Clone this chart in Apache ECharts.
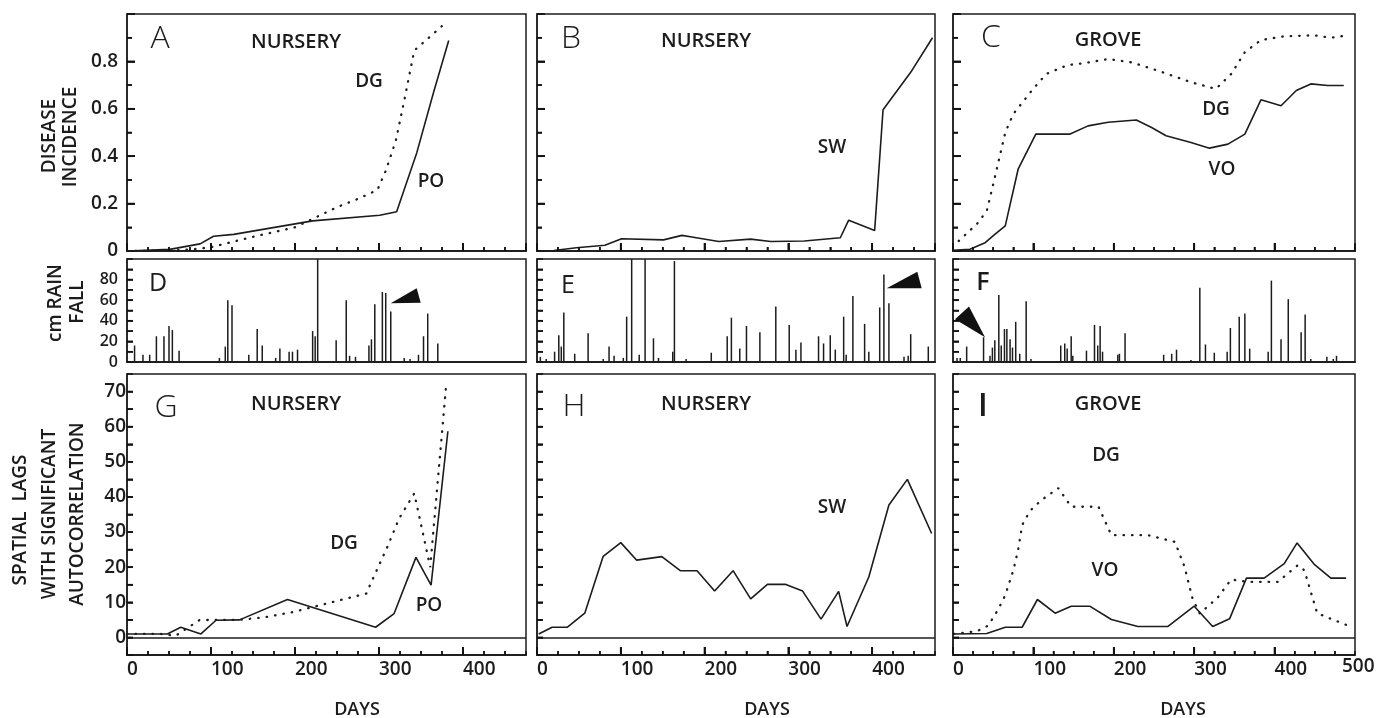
<!DOCTYPE html>
<html><head><meta charset="utf-8">
<script src="https://cdn.jsdelivr.net/npm/echarts@6/dist/echarts.min.js"></script>
<style>html,body{margin:0;padding:0;background:#fff}#c{width:1377px;height:718px}</style>
</head><body><div id="c"></div><script>
// ---------- DATA ----------
// Panel A (nursery disease incidence)
const A_PO_days = [0, 51, 87, 103, 127, 221, 301, 321, 345, 365, 383];
const A_PO_vals = [0, 0.007, 0.03, 0.062, 0.07, 0.127, 0.151, 0.166, 0.415, 0.67, 0.888];
const A_DG_days = [0, 50, 75, 100, 150, 200, 250, 275, 298, 308, 320, 330, 342, 360, 380];
const A_DG_vals = [0, 0.002, 0.006, 0.016, 0.06, 0.1, 0.185, 0.22, 0.257, 0.338, 0.465, 0.634, 0.846, 0.902, 0.965];
// Panel B
const B_SW_days = [2, 20, 47, 81, 101, 151, 173, 183, 217, 255, 279, 319, 362, 372, 403, 413, 446, 472];
const B_SW_vals = [0, 0.002, 0.014, 0.024, 0.052, 0.047, 0.066, 0.06, 0.04, 0.05, 0.04, 0.042, 0.056, 0.13, 0.087, 0.596, 0.754, 0.9];
// Panel C (grove)
const C_VO_days = [0, 21, 40, 52, 65, 81, 103, 145, 168, 193, 228, 247, 265, 296, 319, 342, 363, 383, 408, 427, 445, 466, 486];
const C_VO_vals = [0.003, 0.007, 0.035, 0.07, 0.106, 0.345, 0.493, 0.493, 0.528, 0.543, 0.553, 0.521, 0.486, 0.458, 0.434, 0.451, 0.493, 0.638, 0.613, 0.677, 0.705, 0.698, 0.698];
const C_DG_days = [7, 30, 42, 52, 65, 75, 98, 116, 143, 162, 193, 222, 255, 296, 327, 346, 363, 383, 412, 449, 470, 491];
const C_DG_vals = [0.042, 0.115, 0.169, 0.31, 0.5, 0.578, 0.677, 0.747, 0.785, 0.792, 0.81, 0.796, 0.761, 0.712, 0.684, 0.747, 0.839, 0.89, 0.906, 0.91, 0.9, 0.91];
// Panels D, E, F (rainfall spikes)
const D_rain_days = [9, 19, 27, 35, 44, 50, 54, 62, 68, 110, 117, 120, 125, 145, 155, 161, 177, 182, 193, 197, 203, 221, 224, 227, 249, 261, 265, 272, 288, 291, 295, 304, 308, 314, 330, 337, 347, 353, 358, 370];
const D_rain_vals = [16, 7, 7, 25, 25, 35, 31, 11, 1, 4, 15, 60, 55, 7, 32, 16, 4, 13, 10, 10, 12, 30, 25, 100, 21, 60, 6, 5, 16, 22, 56, 68, 67, 49, 4, 3, 7, 25, 47, 18];
const E_rain_days = [4, 11, 21, 26, 29, 32, 45, 61, 79, 86, 92, 103, 107, 113, 122, 129, 139, 145, 162, 164, 178, 208, 227, 232, 242, 250, 266, 285, 301, 309, 315, 336, 342, 350, 356, 366, 369, 377, 391, 396, 409, 414, 420, 438, 443, 446, 467];
const E_rain_vals = [5, 3, 10, 26, 15, 48, 8, 28, 3, 15, 6, 4, 44, 100, 7, 100, 23, 4, 10, 98, 3, 9, 25, 43, 13, 35, 29, 54, 36, 12, 19, 25, 18, 26, 12, 44, 7, 64, 37, 10, 53, 85, 57, 5, 6, 27, 15];
const F_rain_days = [5, 9, 17, 38, 46, 49, 52, 57, 60, 64, 67, 71, 74, 78, 83, 91, 97, 134, 139, 142, 147, 149, 166, 176, 180, 183, 186, 205, 207, 214, 262, 272, 278, 296, 307, 314, 325, 341, 345, 356, 363, 369, 392, 396, 408, 417, 433, 438, 445, 465, 473, 477];
const F_rain_vals = [4, 4, 15, 24, 6, 14, 21, 65, 16, 32, 32, 22, 14, 39, 8, 59, 3, 16, 18, 13, 25, 6, 11, 36, 16, 35, 10, 7, 8, 28, 7, 8, 12, 2, 72, 17, 9, 10, 33, 44, 47, 13, 10, 79, 22, 61, 29, 46, 3, 5, 3, 6];
// Panels G, H, I (spatial lags)
const G_PO_days = [0, 48, 64, 88, 106, 134, 191, 296, 318, 344, 362, 382];
const G_PO_vals = [1, 1, 2.9, 1, 4.9, 5, 10.8, 2.9, 6.8, 22.8, 14.9, 58.7];
const G_DG_days = [0, 40, 58, 86, 102, 134, 165, 197, 245, 285, 290, 310, 324, 342, 361, 380];
const G_DG_vals = [1, 1, 0.5, 4.9, 5, 5, 5.8, 7.2, 10.1, 12.5, 15.3, 25.8, 33.9, 41, 20, 72];
const H_SW_days = [2, 18, 36, 57, 79, 100, 119, 149, 171, 191, 212, 234, 255, 275, 297, 317, 339, 360, 370, 396, 420, 442, 471];
const H_SW_vals = [1, 2.9, 2.9, 6.9, 23.1, 27, 22, 23, 19, 19, 13.2, 19, 11, 15.1, 15.1, 13.2, 5.2, 13.1, 3.1, 17.2, 37.7, 45, 29.6];
const I_VO_days = [1, 42, 65, 86, 105, 127, 147, 170, 197, 230, 267, 300, 323, 344, 365, 387, 412, 428, 449, 470, 489];
const I_VO_vals = [1, 1.1, 2.9, 2.9, 10.8, 6.9, 8.9, 8.9, 5.1, 3.1, 3.1, 8.9, 3.1, 5.3, 16.9, 16.9, 21, 26.9, 20.9, 16.9, 16.9];
const I_DG_days = [1, 30, 44, 56, 65, 75, 81, 86, 96, 110, 131, 147, 181, 197, 243, 276, 288, 298, 307, 329, 346, 367, 404, 429, 437, 453, 470, 491];
const I_DG_vals = [1, 1.8, 3.4, 7.9, 12, 19.1, 24.9, 32, 36.1, 39.1, 42.5, 37.2, 37.2, 29.1, 29.1, 27.2, 20.1, 11, 6.8, 11.3, 16.5, 15.8, 15.8, 20.6, 19.1, 6.9, 5.3, 3.4];
// Tick label sets
const xTickLabels = ['0', '100', '200', '300', '400'];
const dayMaxNursery = 475, dayMaxGrove = 500;

// ---------- CHART ----------
const FONT = '"Open Sans", "Noto Sans", sans-serif';
const INK = '#1c1c1c';
const chart = echarts.init(document.getElementById('c'), null, {renderer: 'canvas'});
const zip = (d, v) => d.map((x, i) => [x, v[i]]);

const grids = [
  {left: 127, top: 14, width: 399, height: 237},
  {left: 537, top: 14, width: 398, height: 237},
  {left: 953, top: 14, width: 402, height: 237},
  {left: 127, top: 259, width: 399, height: 103},
  {left: 537, top: 259, width: 398, height: 103},
  {left: 953, top: 259, width: 402, height: 103},
  {left: 127, top: 374, width: 399, height: 281},
  {left: 537, top: 374, width: 398, height: 281},
  {left: 953, top: 374, width: 402, height: 281}
].map(g => Object.assign({show: true, borderColor: INK, borderWidth: 1.5}, g));

const axLine = () => ({show: true, onZero: false, lineStyle: {color: INK, width: 1.5}});
const tick = (len, w) => ({show: true, inside: true, length: len, lineStyle: {color: '#111', width: w}});
const xMax = [dayMaxNursery, dayMaxNursery, dayMaxGrove, dayMaxNursery, dayMaxNursery, dayMaxGrove, dayMaxNursery, dayMaxNursery, dayMaxGrove];
const xAxes = [];
for (let i = 0; i < 9; i++) {
  const rainPanel = (i >= 3 && i <= 5);
  xAxes.push({type: 'value', gridIndex: i, position: 'bottom', min: 0, max: xMax[i], interval: 25,
    axisLine: axLine(), splitLine: {show: false}, axisLabel: {show: false},
    axisTick: rainPanel ? {show: false} : tick(4, 1.5)});
  xAxes.push({type: 'value', gridIndex: i, position: 'bottom', min: 0, max: xMax[i], interval: 100,
    axisLine: axLine(), splitLine: {show: false},
    axisTick: rainPanel ? {show: false} : tick(8, 1.8),
    axisLabel: {show: i >= 6, showMaxLabel: false, align: 'left', margin: 5,
      fontFamily: FONT, fontSize: 19, fontWeight: 600, color: INK,
      formatter: v => xTickLabels[Math.round(v / 100)] || ''}});
}
const yAxes = [];
for (let i = 0; i < 9; i++) {
  const base = {type: 'value', gridIndex: i, position: 'left', axisLine: axLine(), splitLine: {show: false}};
  if (i < 3) {
    yAxes.push(Object.assign(base, {min: 0, max: 1, interval: 0.2,
      axisTick: tick(8, 1.8),
      minorTick: {show: true, splitNumber: 2, length: 5, lineStyle: {color: '#111', width: 1.5}},
      axisLabel: {show: i === 0, showMaxLabel: false, margin: 9, fontFamily: FONT, fontSize: 19, fontWeight: 600, color: INK,
        formatter: v => v === 0 ? '0' : String(+v.toFixed(1))}}));
  } else if (i < 6) {
    yAxes.push(Object.assign(base, {min: 0, max: 100, interval: 20,
      axisTick: tick(6, 1.5),
      minorTick: {show: true, splitNumber: 2, length: 6, lineStyle: {color: '#111', width: 1.5}},
      axisLabel: {show: i === 3, showMaxLabel: false, margin: 9, fontFamily: FONT, fontSize: 16, fontWeight: 600, color: INK}}));
  } else {
    yAxes.push(Object.assign(base, {min: -5, max: 75, interval: 5,
      axisTick: tick(6, 1.6),
      axisLabel: {show: i === 6, margin: 1, fontFamily: FONT, fontSize: 19, fontWeight: 600, color: INK,
        formatter: v => (v >= 0 && v % 10 === 0) ? String(v) : ''}}));
  }
}

const solid = {color: INK, width: 1.6};
const dotted = {color: INK, width: 2.3, type: [0.5, 8], cap: 'round'};
function line(i, days, vals, style, extra) {
  return Object.assign({type: 'line', xAxisIndex: 2 * i + 1, yAxisIndex: i, data: zip(days, vals),
    showSymbol: false, symbol: 'none', lineStyle: style, silent: true, z: 3}, extra || {});
}
function rain(i, days, vals) {
  return {type: 'bar', xAxisIndex: 2 * i + 1, yAxisIndex: i, data: zip(days, vals), barWidth: 1.5,
    itemStyle: {color: INK}, silent: true, clip: true};
}
const zeroLine = {markLine: {silent: true, symbol: 'none', label: {show: false},
  lineStyle: {color: INK, width: 1.5, type: 'solid'}, data: [{yAxis: 0}]}};

const series = [
  line(0, A_PO_days, A_PO_vals, solid),
  line(0, A_DG_days, A_DG_vals, dotted),
  line(1, B_SW_days, B_SW_vals, solid),
  line(2, C_VO_days, C_VO_vals, solid),
  line(2, C_DG_days, C_DG_vals, dotted),
  rain(3, D_rain_days, D_rain_vals),
  rain(4, E_rain_days, E_rain_vals),
  rain(5, F_rain_days, F_rain_vals),
  line(6, G_PO_days, G_PO_vals, solid, zeroLine),
  line(6, G_DG_days, G_DG_vals, dotted),
  line(7, H_SW_days, H_SW_vals, solid, zeroLine),
  line(8, I_VO_days, I_VO_vals, solid, zeroLine),
  line(8, I_DG_days, I_DG_vals, dotted)
];

function txt(text, x, y, size, weight, rot, align) {
  return {type: 'text', x: x, y: y, rotation: rot || 0, silent: true, z: 10,
    style: {text: text, fill: INK, fontFamily: FONT, fontSize: size, fontWeight: weight,
      align: align || 'center', verticalAlign: 'middle', textAlign: align || 'center', textVerticalAlign: 'middle'}};
}
const R = Math.PI / 2;
const graphics = [
  txt('A', 160, 39, 32, 300), txt('B', 571, 39, 32, 300), txt('C', 991, 38, 32, 300),
  txt('D', 158, 284, 25, 400), txt('E', 568, 286, 25, 400), txt('F', 983, 283, 25, 600),
  txt('G', 166, 408, 32, 300), txt('H', 574, 407, 32, 300), txt('I', 983, 407, 32, 600),
  txt('NURSERY', 296, 42, 20, 600), txt('NURSERY', 706, 41, 20, 600), txt('GROVE', 1108, 40, 20, 600),
  txt('NURSERY', 296, 404, 20, 600), txt('NURSERY', 706, 404, 20, 600), txt('GROVE', 1108, 404, 20, 600),
  txt('DG', 369, 82, 19, 600), txt('PO', 431, 182, 19, 600), txt('SW', 832, 148, 19, 600),
  txt('DG', 1216, 110, 19, 600), txt('VO', 1222, 170, 19, 600),
  txt('DG', 344, 544, 19, 600), txt('PO', 429, 606, 19, 600), txt('SW', 832, 508, 19, 600),
  txt('DG', 1106, 456, 19, 600), txt('VO', 1105, 571, 19, 600),
  txt('DISEASE', 50, 136, 19, 600, R), txt('INCIDENCE', 71, 137, 19, 600, R),
  txt('cm RAIN', 56, 303, 19, 600, R), txt('FALL', 78, 302, 19, 600, R),
  txt('SPATIAL  LAGS', 21, 520, 19, 600, R), txt('WITH SIGNIFICANT', 50, 514, 19, 600, R),
  txt('AUTOCORRELATION', 78, 514, 19, 600, R),
  txt('DAYS', 357, 710, 18, 600), txt('DAYS', 767, 710, 18, 600), txt('DAYS', 1183, 710, 18, 600),
  txt('500', 1342, 667, 19, 600, 0, 'left'),
  {type: 'polygon', silent: true, z: 10, shape: {points: [[390.7, 303.3], [416.7, 288.3], [420.7, 302.7]]}, style: {fill: '#111'}},
  {type: 'polygon', silent: true, z: 10, shape: {points: [[886.7, 288.3], [917.3, 271.7], [921.7, 288.3]]}, style: {fill: '#111'}},
  {type: 'polygon', silent: true, z: 10, shape: {points: [[955, 319.3], [969, 306.5], [985, 337.3]]}, style: {fill: '#111'}}
];

chart.setOption({
  animation: false,
  backgroundColor: '#fff',
  grid: grids,
  xAxis: xAxes,
  yAxis: yAxes,
  series: series
});

// Tick marks placed through the axes' own scales (convertToPixel)
const tickEls = [];
function tickLine(x1, y1, x2, y2, w) {
  tickEls.push({type: 'line', silent: true, z: 9, shape: {x1: x1, y1: y1, x2: x2, y2: y2},
    style: {stroke: '#111', lineWidth: w}});
}
for (let i = 0; i < 9; i++) {
  const rainPanel = (i >= 3 && i <= 5);
  const xi = {xAxisIndex: 2 * i + 1}, yi = {yAxisIndex: i};
  const yBottom = chart.convertToPixel(yi, yAxes[i].min);
  const xLeft = chart.convertToPixel(xi, 0);
  if (!rainPanel) {
    for (let v = 25; v < xMax[i]; v += 25) {
      const px = chart.convertToPixel(xi, v);
      const major = v % 100 === 0;
      tickLine(px, yBottom, px, yBottom - (major ? 8 : 4), major ? 1.8 : 1.5);
    }
  }
  let vals = [], majors = [];
  if (i < 3) { for (let k = 1; k < 10; k++) { vals.push(k / 10); majors.push(k % 2 === 0); } }
  else if (i < 6) { for (let k = 1; k < 10; k++) { vals.push(k * 10); majors.push(k % 2 === 0); } }
  else { for (let k = 1; k < 16; k++) { vals.push(-5 + 5 * k); majors.push(true); } }
  vals.forEach((v, k) => {
    const py = chart.convertToPixel(yi, v);
    const len = i < 3 ? (majors[k] ? 8 : 5) : 6;
    tickLine(xLeft, py, xLeft + len, py, majors[k] ? 1.7 : 1.5);
  });
}
chart.setOption({graphic: {elements: graphics.concat(tickEls)}});
</script></body></html>
